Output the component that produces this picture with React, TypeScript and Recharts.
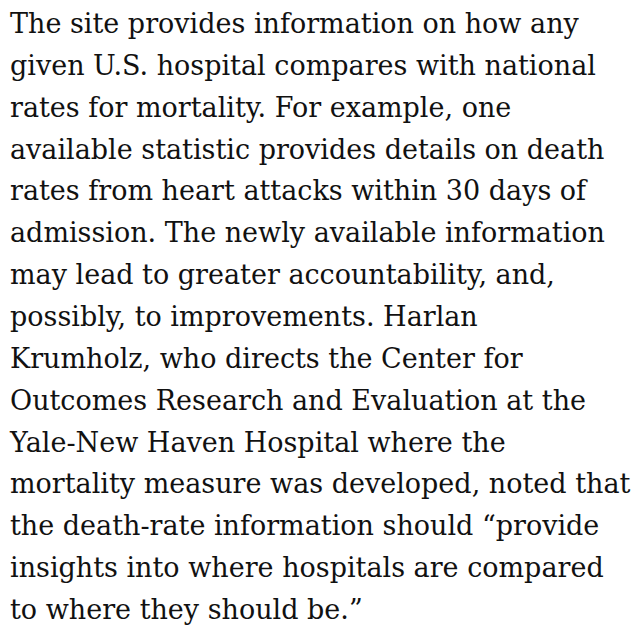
import { ScatterChart, Scatter, XAxis, YAxis } from "recharts";

// one entry per wrapped line of the paragraph, in reading order
const lines: string[] = [
  "The site provides information on how any",
  "given U.S. hospital compares with national",
  "rates for mortality. For example, one",
  "available statistic provides details on death",
  "rates from heart attacks within 30 days of",
  "admission. The newly available information",
  "may lead to greater accountability, and,",
  "possibly, to improvements. Harlan",
  "Krumholz, who directs the Center for",
  "Outcomes Research and Evaluation at the",
  "Yale-New Haven Hospital where the",
  "mortality measure was developed, noted that",
  "the death-rate information should \u201cprovide",
  "insights into where hospitals are compared",
  "to where they should be.\u201d",
];

const rows = lines.map((text, i) => ({ x: 0, row: i, text }));

const TextLine = (props: any) => {
  const { cx, cy, payload } = props;
  return (
    <text
      x={cx}
      y={cy}
      fill="#111"
      fontSize={27}
      textAnchor="start"
      style={{ fontFamily: "'DejaVu Serif', serif" }}
    >
      {payload.text}
    </text>
  );
};

export default function App() {
  return (
    <div style={{ position: "absolute", left: 0, top: 0, width: 633, height: 626, background: "#fff" }}>
      <ScatterChart width={633} height={626} margin={{ top: 33, right: 10, bottom: 7, left: 10 }}>
        <XAxis type="number" dataKey="x" domain={[0, 1]} hide />
        <YAxis type="number" dataKey="row" domain={[0, lines.length - 1]} reversed hide />
        <Scatter data={rows} shape={TextLine} isAnimationActive={false} />
      </ScatterChart>
    </div>
  );
}
